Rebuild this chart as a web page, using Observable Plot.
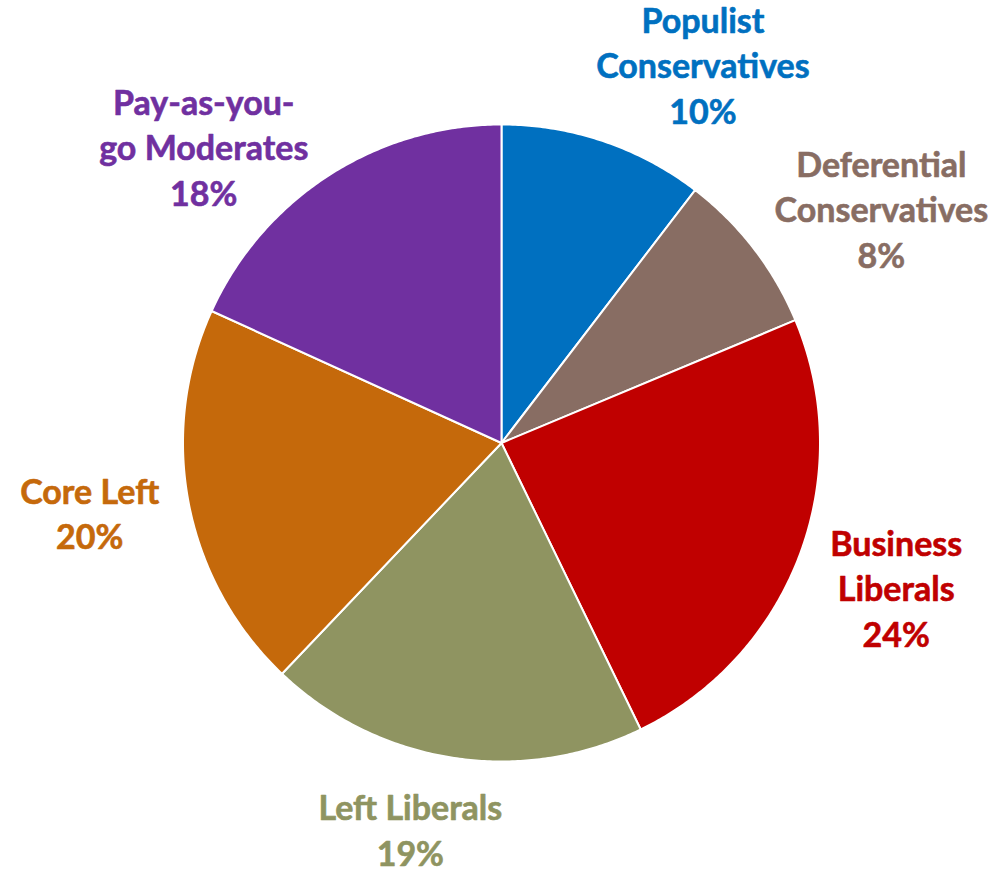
<!DOCTYPE html>
<html>
<head>
<meta charset="utf-8">
<script src="https://cdn.jsdelivr.net/npm/d3@7"></script>
<script src="https://cdn.jsdelivr.net/npm/@observablehq/plot@0.6"></script>
<style>
  html, body { margin: 0; padding: 0; background: #fff; }
  #chart svg { display: block; }
</style>
</head>
<body>
<div id="chart"></div>
<script>
// ---- data ----
const segments = ["Populist Conservatives", "Deferential Conservatives", "Business Liberals", "Left Liberals", "Core Left", "Pay-as-you-go Moderates"];
const labelLines = ["Populist\nConservatives", "Deferential\nConservatives", "Business\nLiberals", "Left Liberals", "Core Left", "Pay-as-you-\ngo Moderates"];
const shares = [10.4, 8.3, 24.1, 19.3, 19.7, 18.2];
const shareLabels = ["10%", "8%", "24%", "19%", "20%", "18%"];
const colors = ["#0070C0", "#886D63", "#C00000", "#8F9461", "#C5690B", "#7030A0"];

// ---- layout ----
const W = 1000, H = 872;
const cx = 501, cy = 442.5, R = 318.5;
const FONT_SIZE = 34, LINE_H = 1.34, FONT = "Lato, 'Open Sans', sans-serif";
const GAP = 20;
// small per-label layout nudges (px), mimicking the spreadsheet's label placement
const labelNudgeX = [-10, 5, 12, 3, -10, -10];
const labelNudgeY = [6, 13, 0, 6, -4, 45];

const total = d3.sum(shares);
let acc = 0;
const slices = shares.map((v, i) => {
  const a0 = acc / total * 2 * Math.PI;
  acc += v;
  const a1 = acc / total * 2 * Math.PI;
  return {name: segments[i], a0, a1, i};
});

// polygon points for each slice (angles clockwise from 12 o'clock)
const piePts = [];
for (const s of slices) {
  piePts.push({name: s.name, x: cx, y: cy});
  const n = Math.max(2, Math.ceil((s.a1 - s.a0) / (Math.PI / 360)));
  for (let k = 0; k <= n; k++) {
    const a = s.a0 + (s.a1 - s.a0) * k / n;
    piePts.push({name: s.name, x: cx + R * Math.sin(a), y: cy - R * Math.cos(a)});
  }
  piePts.push({name: s.name, x: cx, y: cy});
}

// label placement (outside-end)
const ctx = document.createElement("canvas").getContext("2d");
ctx.font = `bold ${FONT_SIZE}px Lato`;
const clamp = (v, lo, hi) => Math.max(lo, Math.min(hi, v));
const labels = slices.map((s, i) => {
  const text = labelLines[i] + "\n" + shareLabels[i];
  const lines = text.split("\n");
  const w = d3.max(lines, l => ctx.measureText(l).width);
  const h = lines.length * FONT_SIZE * LINE_H;
  const am = (s.a0 + s.a1) / 2;
  const ux = Math.sin(am), uy = -Math.cos(am);
  const px = cx + (R + GAP) * ux, py = cy + (R + GAP) * uy;
  const x = px + (w / 2) * clamp(3 * ux, -1, 1) + labelNudgeX[i];
  const y = py + (h / 2) * uy + labelNudgeY[i];
  return {name: s.name, text, x, y};
});

const chart = Plot.plot({
  width: W,
  height: H,
  margin: 0,
  x: {domain: [0, W], range: [0, W], axis: null},
  y: {domain: [0, H], range: [0, H], axis: null},
  color: {domain: segments, range: colors},
  marks: [
    Plot.line(piePts, {x: "x", y: "y", z: "name", fill: "name", stroke: "white", strokeWidth: 2, strokeLinejoin: "round", curve: "linear"}),
    Plot.text(labels, {x: "x", y: "y", text: "text", fill: "name", stroke: "name", strokeWidth: 0.6, paintOrder: "normal", fontSize: FONT_SIZE, fontWeight: "bold", fontFamily: FONT, lineHeight: LINE_H, textAnchor: "middle", lineAnchor: "middle"})
  ]
});
document.getElementById("chart").appendChild(chart);
</script>
</body>
</html>
